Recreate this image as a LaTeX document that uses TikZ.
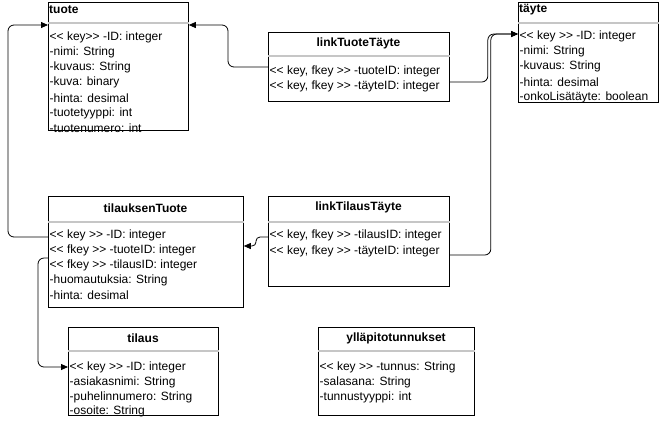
\documentclass[tikz,border=0pt]{standalone}
\usepackage{fontspec}
\setmainfont{Liberation Sans}
\usetikzlibrary{arrows.meta}
\newcommand\oLT{<\kern0pt<}
\newcommand\oGT{>\kern0pt>}
\begin{document}
\begin{tikzpicture}[x=1pt,y=-1pt,
  font=\fontsize{12}{14}\selectfont,
  box/.style={draw, line width=0.8pt, inner sep=0pt, anchor=north west},
  sepline/.style={draw=gray!45, line width=1.5pt},
  ttl/.style={font=\fontsize{12}{14}\selectfont\bfseries, inner sep=0pt, yshift=-1pt},
  row/.style={anchor=west, inner sep=0pt, yshift=-1.5pt},
  conn/.style={draw, line width=0.8pt, rounded corners=6pt},
  tip/.style={-{Triangle[length=7pt,width=6pt]}}]
\useasboundingbox[fill=white] (0,0) rectangle (660,421);

% ---- boxes
\node[box, minimum width=140pt, minimum height=128pt] (tuote) at (48,2) {};
\node[box, minimum width=140pt, minimum height=100pt] (tayte) at (518,2) {};
\node[box, minimum width=181pt, minimum height=69pt] (ltt) at (268,32) {};
\node[box, minimum width=195pt, minimum height=111pt] (tt) at (48,196) {};
\node[box, minimum width=181pt, minimum height=90pt] (ltit) at (268,196) {};
\node[box, minimum width=150pt, minimum height=88pt] (tilaus) at (68,327) {};
\node[box, minimum width=156pt, minimum height=88pt] (yp) at (318,327) {};

% ---- separators
\draw[sepline] ([yshift=-21pt]tuote.north west) -- ([yshift=-21pt]tuote.north east);
\draw[sepline] ([yshift=-21pt]tayte.north west) -- ([yshift=-21pt]tayte.north east);
\draw[sepline] ([yshift=-24pt]ltt.north west) -- ([yshift=-24pt]ltt.north east);
\draw[sepline] ([yshift=-26pt]tt.north west) -- ([yshift=-26pt]tt.north east);
\draw[sepline] ([yshift=-26pt]ltit.north west) -- ([yshift=-26pt]ltit.north east);
\draw[sepline] ([yshift=-24pt]tilaus.north west) -- ([yshift=-24pt]tilaus.north east);
\draw[sepline] ([yshift=-24pt]yp.north west) -- ([yshift=-24pt]yp.north east);

% ---- titles
\node[ttl, anchor=west] (tuoteT) at (49,9) {tuote};
\node[ttl, anchor=west] (tayteT) at (519,9) {täyte};
\node[ttl] (lttT) at (358.5,42) {linkTuoteTäyte};
\node[ttl] (ttT) at (145.5,207) {tilauksenTuote};
\node[ttl] (ltitT) at (358.5,206) {linkTilausTäyte};
\node[ttl] (tilausT) at (143,337) {tilaus};
\node[ttl] (ypT) at (396,337) {ylläpitotunnukset};

% ---- rows: tuote
\node[row] (tu1) at (49.5,35.5) {\oLT{} key\oGT{} -ID: integer};
\node[row] (tu2) at (49.5,50.7) {-nimi: String};
\node[row] (tu3) at (49.5,65.9) {-kuvaus: String};
\node[row] (tu4) at (49.5,81.1) {-kuva: binary};
\node[row] (tu5) at (49.5,96.3) {-hinta: desimal};
\node[row] (tu6) at (49.5,111.5) {-tuotetyyppi: int};
\node[row] (tu7) at (49.5,126.5) {-tuotenumero: int};
% täyte
\node[row] (ta1) at (519.5,34.5) {\oLT{} key \oGT{} -ID: integer};
\node[row] (ta2) at (519.5,49.8) {-nimi: String};
\node[row] (ta3) at (519.5,65.1) {-kuvaus: String};
\node[row] (ta4) at (519.5,80.4) {-hinta: desimal};
\node[row] (ta5) at (519.5,95.7) {-onkoLisätäyte: boolean};
% linkTuoteTäyte
\node[row] (lt1) at (269.5,70) {\oLT{} key, fkey \oGT{} -tuoteID: integer};
\node[row] (lt2) at (269.5,85) {\oLT{} key, fkey \oGT{} -täyteID: integer};
% tilauksenTuote
\node[row] (tt1) at (49.5,233.5) {\oLT{} key \oGT{} -ID: integer};
\node[row] (tt2) at (49.5,248.5) {\oLT{} fkey \oGT{} -tuoteID: integer};
\node[row] (tt3) at (49.5,263.5) {\oLT{} fkey \oGT{} -tilausID: integer};
\node[row] (tt4) at (49.5,278.5) {-huomautuksia: String};
\node[row] (tt5) at (49.5,293.5) {-hinta: desimal};
% linkTilausTäyte
\node[row] (li1) at (269.5,234) {\oLT{} key, fkey \oGT{} -tilausID: integer};
\node[row] (li2) at (269.5,250) {\oLT{} key, fkey \oGT{} -täyteID: integer};
% tilaus
\node[row] (ti1) at (69.5,365.5) {\oLT{} key \oGT{} -ID: integer};
\node[row] (ti2) at (69.5,380.5) {-asiakasnimi: String};
\node[row] (ti3) at (69.5,395.5) {-puhelinnumero: String};
\node[row] (ti4) at (69.5,410) {-osoite: String};
% ylläpitotunnukset
\node[row] (yp1) at (319.5,365.5) {\oLT{} key \oGT{} -tunnus: String};
\node[row] (yp2) at (319.5,380.5) {-salasana: String};
\node[row] (yp3) at (319.5,395.5) {-tunnustyyppi: int};

% ---- connectors
\draw[conn, tip] ([yshift=-41pt]tt.north west) -- ++(-40,0) |- ([yshift=-23pt]tuote.north west);
\draw[conn, tip] ([yshift=-35pt]ltt.north west) -- ++(-40,0) |- ([yshift=-23pt]tuote.north east);
\draw[conn, tip] ([yshift=-50pt]ltt.north east) -- ++(38,0) |- ([yshift=-32pt]tayte.north west);
\draw[conn, tip] ([yshift=-59pt]ltit.north east) -- ++(41,0) |- ([yshift=-32pt]tayte.north west);
\draw[conn, rounded corners=4pt, tip] ([yshift=-41pt]ltit.north west) -- ++(-12,0) |- ([yshift=-50pt]tt.north east);
\draw[conn, tip] ([yshift=-62pt]tt.north west) -- ++(-10,0) |- ([yshift=-40pt]tilaus.north west);
\end{tikzpicture}
\end{document}
